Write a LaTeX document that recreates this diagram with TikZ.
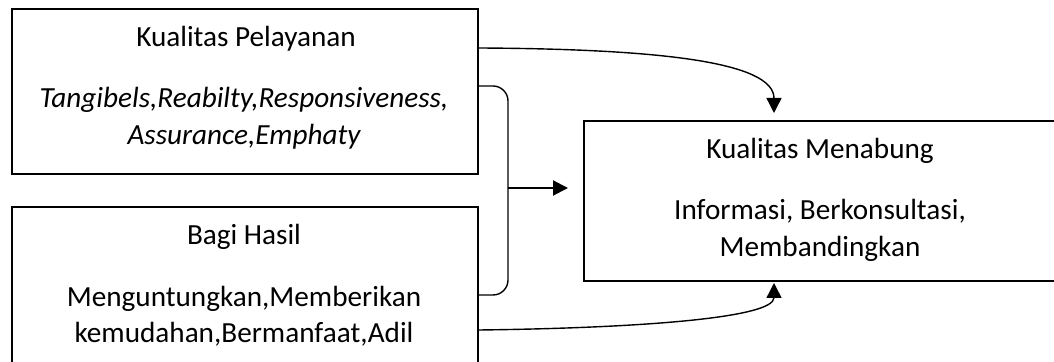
\documentclass[tikz,border=0pt]{standalone}
\usepackage{fontspec}
\setmainfont{Carlito}
\usetikzlibrary{arrows.meta,calc}
\begin{document}
\begin{tikzpicture}[x=0.5pt,y=-0.5pt,
  box/.style={draw,line width=1pt,rectangle,inner sep=0pt,anchor=north west},
  lbl/.style={font=\fontsize{14.6}{17.5}\selectfont,anchor=base,inner sep=0pt},
  link/.style={line width=0.7pt,-{Triangle[length=7.5pt,width=7.5pt]}},
  brace/.style={line width=0.7pt,rounded corners=7.5pt}]
\useasboundingbox (0,0) rectangle (1054,362);
\clip (0,0) rectangle (1054,362);

% the three boxes
\node[box,minimum width=466pt/2,minimum height=165pt/2] (k1) at (11,8) {};
\node[box,minimum width=466pt/2,minimum height=170pt/2] (k2) at (11,206) {};
\node[box,minimum width=474pt/2,minimum height=160pt/2] (k3) at (583,120) {};

% box texts
\node[lbl] (t1a) at (246,47) {Kualitas Pelayanan};
\node[lbl] (t1b) at (244,108) {\itshape Tangibels,Reabilty,Responsiveness,};
\node[lbl] (t1c) at (244,145) {\itshape Assurance,Emphaty};
\node[lbl] (t2a) at (244,245) {Bagi Hasil};
\node[lbl] (t2b) at (244,307) {Menguntungkan,Memberikan};
\node[lbl] (t2c) at (244,343) {kemudahan,Bermanfaat,Adil};
\node[lbl] (t3a) at (820,159) {Kualitas Menabung};
\node[lbl] (t3b) at (820,220) {Informasi, Berkonsultasi,};
\node[lbl] (t3c) at (820,257) {Membandingkan};

% bracket joining both boxes, with the joint arrow
\coordinate (bt) at ($(k1.north east)+(0,78)$);
\coordinate (bb) at ($(k2.north east)+(0,89)$);
\coordinate (bm) at (508,188);
\draw[brace] (bt) -- (508,86) -- (508,295) -- (bb);
\draw[line width=1pt,-{Triangle[length=7.5pt,width=7.5pt]}] (bm) -- ($(k3.west |- bm)+(-15,0)$);

% separate curved arrows
\coordinate (s1) at ($(k1.north east)+(0,40)$);
\coordinate (e1) at ($(k3.north west)+(191,-7)$);
\draw[link] (s1) .. controls (660,49) and (774,62) .. (e1);
\coordinate (s2) at ($(k2.north east)+(0,124)$);
\coordinate (e2) at ($(k3.south west)+(191,1)$);
\draw[link] (s2) .. controls (640,328) and (774,318) .. (e2);
\end{tikzpicture}
\end{document}
